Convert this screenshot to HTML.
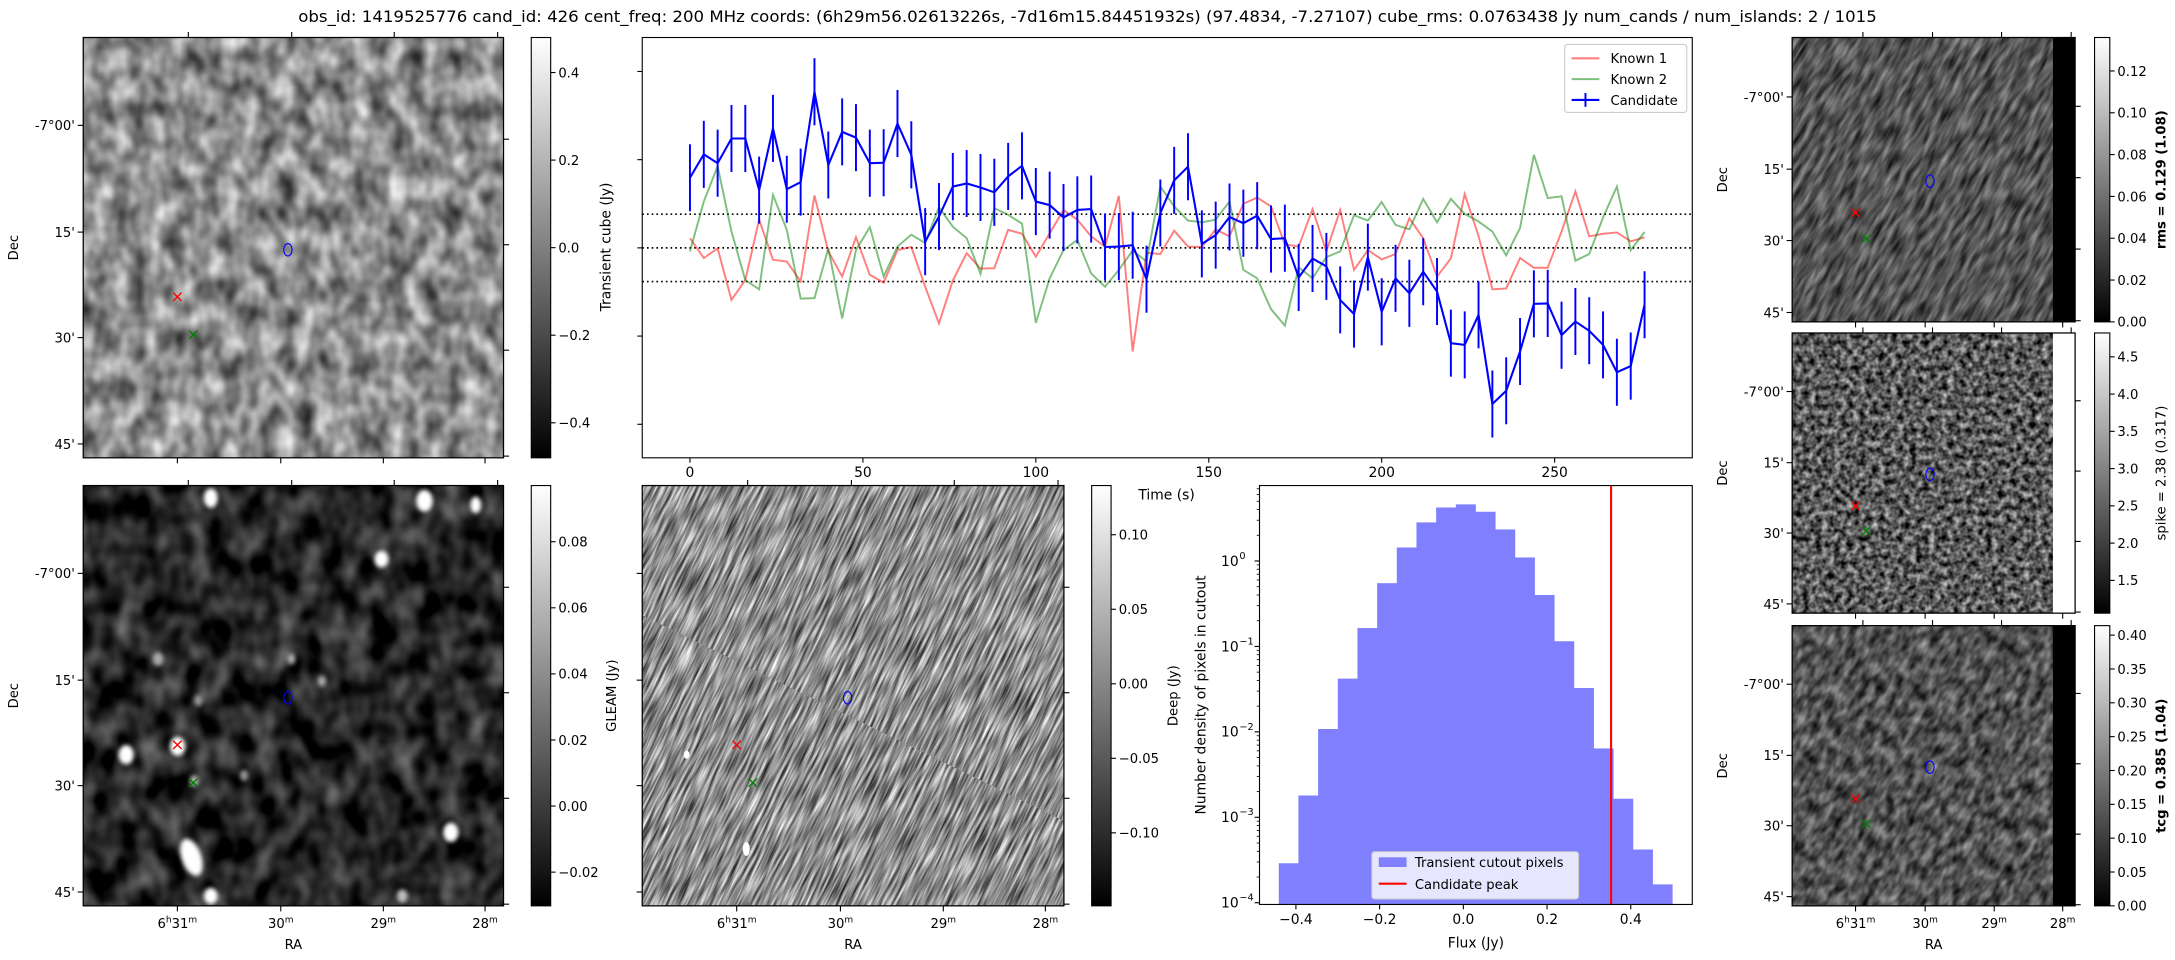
<!DOCTYPE html>
<html><head><meta charset="utf-8"><title>Transient candidate 426</title>
<style>
html,body{margin:0;padding:0;background:#fff;overflow:hidden;width:2175px;height:960px;}
svg{display:block;font-family:"DejaVu Sans","Liberation Sans",sans-serif;}
</style></head>
<body>
<svg id="fig" xmlns="http://www.w3.org/2000/svg" width="2175" height="960" viewBox="0 0 1568 692" overflow="hidden">
<defs>
  <filter id="fTL" x="0" y="0" width="1" height="1" color-interpolation-filters="sRGB"><feTurbulence type="fractalNoise" baseFrequency="0.075 0.055" numOctaves="2" seed="3"/><feColorMatrix type="matrix" values="1.0 0 0 0 0.05 1.0 0 0 0 0.05 1.0 0 0 0 0.05 0 0 0 0 1"/></filter>
  <filter id="fGL" x="0" y="0" width="1" height="1" color-interpolation-filters="sRGB"><feTurbulence type="fractalNoise" baseFrequency="0.06 0.045" numOctaves="2" seed="7"/><feColorMatrix type="matrix" values="0.8 0 0 0 -0.25 0.8 0 0 0 -0.25 0.8 0 0 0 -0.25 0 0 0 0 1"/></filter>
  <filter id="fDP" x="0" y="0" width="1" height="1" color-interpolation-filters="sRGB"><feTurbulence type="fractalNoise" baseFrequency="0.04 0.5" numOctaves="2" seed="11"/><feColorMatrix type="matrix" values="1.2 0 0 0 -0.05 1.2 0 0 0 -0.05 1.2 0 0 0 -0.05 0 0 0 0 1"/></filter>
  <filter id="fRMS" x="0" y="0" width="1" height="1" color-interpolation-filters="sRGB"><feTurbulence type="fractalNoise" baseFrequency="0.06 0.25" numOctaves="2" seed="5"/><feColorMatrix type="matrix" values="0.7 0 0 0 -0.02 0.7 0 0 0 -0.02 0.7 0 0 0 -0.02 0 0 0 0 1"/></filter>
  <filter id="fSP" x="0" y="0" width="1" height="1" color-interpolation-filters="sRGB"><feTurbulence type="fractalNoise" baseFrequency="0.22" numOctaves="2" seed="9"/><feColorMatrix type="matrix" values="1.2 0 0 0 -0.25 1.2 0 0 0 -0.25 1.2 0 0 0 -0.25 0 0 0 0 1"/></filter>
  <filter id="fTCG" x="0" y="0" width="1" height="1" color-interpolation-filters="sRGB"><feTurbulence type="fractalNoise" baseFrequency="0.1 0.18" numOctaves="2" seed="13"/><feColorMatrix type="matrix" values="0.8 0 0 0 -0.08 0.8 0 0 0 -0.08 0.8 0 0 0 -0.08 0 0 0 0 1"/></filter>
  <filter id="blur2"><feGaussianBlur stdDeviation="1.6"/></filter>
  <pattern id="pDP" patternUnits="userSpaceOnUse" x="0" y="0" width="600" height="600" patternTransform="rotate(-64 615 501)"><rect x="0" y="0" width="600" height="600" filter="url(#fDP)"/></pattern>
  <pattern id="pRMS" patternUnits="userSpaceOnUse" x="0" y="0" width="400" height="400" patternTransform="rotate(-60 1394 130)"><rect x="0" y="0" width="400" height="400" filter="url(#fRMS)"/></pattern>
  <pattern id="pTCG" patternUnits="userSpaceOnUse" x="0" y="0" width="400" height="400" patternTransform="rotate(-60 1394 552)"><rect x="0" y="0" width="400" height="400" filter="url(#fTCG)"/></pattern>
  <linearGradient id="gray" x1="0" y1="1" x2="0" y2="0"><stop offset="0" stop-color="#000"/><stop offset="1" stop-color="#fff"/></linearGradient>
  <clipPath id="cGL"><rect x="60" y="350" width="303" height="303"/></clipPath>
</defs>

<text x="784" y="16" font-size="11.5" text-anchor="middle" textLength="1138" lengthAdjust="spacingAndGlyphs">obs_id: 1419525776 cand_id: 426 cent_freq: 200 MHz coords: (6h29m56.02613226s, -7d16m15.84451932s) (97.4834, -7.27107) cube_rms: 0.0763438 Jy num_cands / num_islands: 2 / 1015</text>

<g><rect x="60" y="27" width="303" height="303" filter="url(#fTL)"/></g>
<g clip-path="url(#cGL)">
  <rect x="60" y="350" width="303" height="303" filter="url(#fGL)"/>
  <g fill="#fff" filter="url(#blur2)">
    <ellipse cx="152" cy="359" rx="5" ry="7"/><ellipse cx="306" cy="361" rx="6" ry="8"/><ellipse cx="343" cy="364" rx="4" ry="6"/>
    <ellipse cx="275" cy="403" rx="5" ry="6"/><ellipse cx="114" cy="475" rx="4" ry="5" fill="#aaa"/><ellipse cx="210" cy="475" rx="3" ry="4" fill="#aaa"/>
    <ellipse cx="232" cy="491" rx="3" ry="4" fill="#aaa"/><ellipse cx="143" cy="505" rx="3" ry="4" fill="#999"/>
    <ellipse cx="91" cy="544" rx="5.5" ry="7"/><ellipse cx="128" cy="538" rx="5.5" ry="7"/><ellipse cx="176" cy="559" rx="3" ry="4" fill="#999"/>
    <ellipse cx="140" cy="563" rx="3" ry="4" fill="#bbb"/><ellipse cx="325" cy="600" rx="5.5" ry="7"/>
    <ellipse cx="138" cy="618" rx="7" ry="14" transform="rotate(-20 138 618)"/><ellipse cx="152" cy="646" rx="5" ry="6"/><ellipse cx="290" cy="646" rx="4" ry="5" fill="#bbb"/>
  </g>
</g>
<g>
  <rect x="463" y="350" width="304" height="303" fill="url(#pDP)"/>
  <ellipse cx="495" cy="544" rx="2" ry="3" fill="#fff"/><ellipse cx="538" cy="612" rx="2.5" ry="5" fill="#fff"/>
</g>
<g>
  <rect x="1292" y="27" width="204" height="205" fill="url(#pRMS)"/>
  <rect x="1480" y="27" width="16" height="205" fill="#000"/>
</g>
<g>
  <rect x="1292" y="240" width="204" height="202" filter="url(#fSP)"/>
  <rect x="1480" y="240" width="16" height="202" fill="#fff"/>
</g>
<g>
  <rect x="1292" y="451" width="204" height="202" fill="url(#pTCG)"/>
  <rect x="1480" y="451" width="16" height="202" fill="#000"/>
</g>

<g id="panels"></g>
<g id="lightcurve"></g>
<g id="hist"></g>
</svg>

<script>
// ---------- light curve data ----------
const lcTimes = [0,4,8,12,16,20,24,28,32,36,40,44,48,52,56,60,64,68,72,76,80,84,88,92,96,100,104,108,112,116,120,124,128,132,136,140,144,148,152,156,160,164,168,172,176,180,184,188,192,196,200,204,208,212,216,220,224,228,232,236,240,244,248,252,256,260,264,268,272,276];
const candFlux = [0.159,0.212,0.192,0.248,0.248,0.131,0.271,0.133,0.149,0.354,0.188,0.263,0.250,0.192,0.193,0.282,0.211,0.014,0.071,0.139,0.146,0.137,0.126,0.162,0.186,0.105,0.097,0.069,0.086,0.088,0.002,0.003,0.006,-0.071,0.079,0.153,0.184,0.009,0.029,0.070,0.056,0.073,0.020,0.022,-0.067,-0.024,-0.042,-0.118,-0.150,-0.021,-0.145,-0.069,-0.103,-0.054,-0.099,-0.216,-0.220,-0.152,-0.354,-0.324,-0.235,-0.127,-0.126,-0.198,-0.167,-0.188,-0.220,-0.282,-0.268,-0.129];
const candErr = [0.076,0.076,0.076,0.076,0.076,0.076,0.076,0.076,0.076,0.076,0.076,0.076,0.076,0.076,0.076,0.076,0.076,0.076,0.076,0.076,0.076,0.076,0.076,0.076,0.076,0.076,0.076,0.076,0.076,0.076,0.076,0.076,0.076,0.076,0.076,0.076,0.076,0.076,0.076,0.076,0.076,0.076,0.076,0.076,0.076,0.076,0.076,0.076,0.076,0.076,0.076,0.076,0.076,0.076,0.076,0.076,0.076,0.076,0.076,0.076,0.076,0.076,0.076,0.076,0.076,0.076,0.076,0.076,0.076,0.076];
const known1Flux = [0.022,-0.023,-0.001,-0.118,-0.073,0.064,-0.027,-0.031,-0.076,0.119,-0.008,-0.065,0.024,-0.061,-0.079,-0.005,0.002,-0.088,-0.171,-0.074,-0.012,-0.047,-0.046,0.041,0.032,-0.020,0.033,0.086,0.064,0.026,0.003,0.118,-0.235,-0.011,-0.014,0.039,0.003,0.002,0.042,0.026,0.100,0.114,0.094,0.008,0.003,0.088,-0.008,0.086,-0.050,-0.005,-0.026,-0.014,0.067,0.022,-0.065,-0.024,0.122,0.027,-0.094,-0.092,-0.023,-0.045,-0.045,0.037,0.128,0.026,0.032,0.035,0.015,0.024];
const known2Flux = [-0.008,0.105,0.185,0.037,-0.073,-0.094,0.120,0.041,-0.115,-0.114,-0.001,-0.160,-0.005,0.047,-0.065,0.003,0.030,0.011,0.092,0.048,0.022,-0.059,0.090,0.075,0.055,-0.170,-0.069,-0.005,0.018,-0.058,-0.088,-0.050,-0.006,-0.031,0.139,0.094,0.062,0.058,0.064,0.105,-0.050,-0.069,-0.139,-0.176,-0.044,-0.069,-0.021,-0.008,0.074,0.062,0.104,0.052,0.042,0.111,0.058,0.111,0.077,0.060,0.037,-0.017,0.045,0.211,0.113,0.117,-0.029,-0.014,0.069,0.139,-0.005,0.036];
const cubeRms = [0.0763438];
const lcXTicks = [0,50,100,150,200,250];
const lcYTicks = [-0.4,-0.2,0,0.2,0.4];

// ---------- histogram data ----------
const binEdges = [-0.441,-0.394,-0.347,-0.300,-0.253,-0.206,-0.159,-0.112,-0.065,-0.018,0.029,0.076,0.123,0.170,0.217,0.264,0.311,0.358,0.405,0.452,0.499];
const binDensity = [2.9e-4,1.8e-3,1.08e-2,0.042,0.164,0.55,1.44,2.83,4.23,4.6,3.77,2.34,1.10,0.40,0.115,0.0326,6.4e-3,1.65e-3,4.2e-4,1.64e-4];
const candPeak = [0.353];
const histXTicks = [-0.4,-0.2,0.0,0.2,0.4];
const histXLabels = ["\u22120.4","\u22120.2","0.0","0.2","0.4"];
const histYDecades = [0,-1,-2,-3,-4];

const NS = 'http://www.w3.org/2000/svg';
function el(tag, parent, attrs){
  const e = document.createElementNS(NS, tag);
  for (const k in attrs) e.setAttribute(k, attrs[k]);
  parent.appendChild(e);
  return e;
}

// ---------- light curve ----------
(function(){
  const g = document.getElementById('lightcurve');
  const L=463,R=1220,T=27,B=330;
  const xd=[-13.8,289.8], yd=[-0.476,0.477];
  const xs = t => L + (t - xd[0])/(xd[1]-xd[0])*(R-L);
  const ys = v => B - (v - yd[0])/(yd[1]-yd[0])*(B-T);
  [-cubeRms[0], 0, cubeRms[0]].forEach(v => {
    const ln = el('line', g, {x1:L,x2:R,y1:ys(v),y2:ys(v),stroke:'#000','stroke-width':1.2,'stroke-dasharray':'1.2 2.2'});
    
    
  });
  const path = arr => arr.map((v,i)=>(i?'L':'M')+xs(lcTimes[i]).toFixed(2)+' '+ys(v).toFixed(2)).join(' ');
  const k1 = el('path', g, {d:path(known1Flux),fill:'none',stroke:'red','stroke-opacity':0.5,'stroke-width':1.4});
  
  
  const k2 = el('path', g, {d:path(known2Flux),fill:'none',stroke:'green','stroke-opacity':0.5,'stroke-width':1.4});
  
  
  candFlux.forEach((v,i) => {
    const eb = el('line', g, {x1:xs(lcTimes[i]),x2:xs(lcTimes[i]),y1:ys(v-candErr[i]),y2:ys(v+candErr[i]),stroke:'#0000ff','stroke-width':1.4});
    
    
  });
  const cl = el('path', g, {d:path(candFlux),fill:'none',stroke:'#0000ff','stroke-width':1.5});
  
  
  const fr = el('rect', g, {x:L,y:T,width:R-L,height:B-T,fill:'none',stroke:'#000','stroke-width':0.8});
  
  
  lcXTicks.forEach(t => {
    el('line', g, {x1:xs(t),x2:xs(t),y1:B,y2:B+3.5,stroke:'#000','stroke-width':0.8});
    const tx = el('text', g, {x:xs(t),y:B+14,'font-size':10,'text-anchor':'middle'});
    tx.textContent = String(t);
    
    
  });
  lcYTicks.forEach(v => { el('line', g, {x1:L-3.5,x2:L,y1:ys(v),y2:ys(v),stroke:'#000','stroke-width':0.8}); });
  const xt = el('text', g, {x:841,y:360,'font-size':10,'text-anchor':'middle'});
  xt.textContent = 'Time (s)';
  
  
  const yt = el('text', g, {x:0,y:0,'font-size':10,'text-anchor':'middle',transform:'translate(440,178) rotate(-90)'});
  yt.textContent = 'Transient cube (Jy)';
  
  
  const lg = el('g', g, {});
  
  
  el('rect', lg, {x:1128,y:32,width:88,height:49,rx:2,fill:'#fff','fill-opacity':0.8,stroke:'#ccc','stroke-width':0.8});
  const items = [['Known 1','red',0.5,false],['Known 2','green',0.5,false],['Candidate','#0000ff',1,true]];
  items.forEach((it,i) => {
    const y = 42 + i*15;
    el('line', lg, {x1:1133,x2:1153,y1:y,y2:y,stroke:it[1],'stroke-opacity':it[2],'stroke-width':1.5});
    if (it[3]) el('line', lg, {x1:1143,x2:1143,y1:y-5,y2:y+5,stroke:it[1],'stroke-width':1.4});
    const t = el('text', lg, {x:1161,y:y+3.5,'font-size':9.5});
    t.textContent = it[0];
    
    
  });
})();

// ---------- histogram ----------
(function(){
  const g = document.getElementById('hist');
  const L=908,R=1220,T=350,B=652;
  const xd=[-0.487,0.547], yd=[-4.02,0.883];
  const xs = v => L + (v - xd[0])/(xd[1]-xd[0])*(R-L);
  const ys = v => B - (Math.log10(v) - yd[0])/(yd[1]-yd[0])*(B-T);
  binDensity.forEach((d,i) => {
    const x0 = xs(binEdges[i]), x1 = xs(binEdges[i+1]);
    const b = el('rect', g, {x:x0,y:ys(d),width:x1-x0+0.3,height:B-ys(d),fill:'#8080ff'});
    
    
  });
  const pk = el('line', g, {x1:xs(candPeak[0]),x2:xs(candPeak[0]),y1:T,y2:B,stroke:'red','stroke-width':1.5});
  
  
  const fr = el('rect', g, {x:L,y:T,width:R-L,height:B-T,fill:'none',stroke:'#000','stroke-width':0.8});
  
  
  histXTicks.forEach((v,i) => {
    el('line', g, {x1:xs(v),x2:xs(v),y1:B,y2:B+3.5,stroke:'#000','stroke-width':0.8});
    const t = el('text', g, {x:xs(v),y:B+14,'font-size':10,'text-anchor':'middle'});
    t.textContent = histXLabels[i];
    
    
  });
  histYDecades.forEach(d => {
    const y = ys(Math.pow(10,d));
    el('line', g, {x1:L-3.5,x2:L,y1:y,y2:y,stroke:'#000','stroke-width':0.8});
    const t = el('text', g, {x:L-15,y:y+3.5,'font-size':10,'text-anchor':'end'});
    t.textContent = '10';
    
    
    const s = el('text', g, {x:L-14.5,y:y-1.5,'font-size':7,'text-anchor':'start'});
    s.textContent = d===0 ? '0' : '\u2212'+(-d);
    for (let m=2;m<10;m++){
      const v = m*Math.pow(10,d);
      if (Math.log10(v) < yd[1]) { const ym = ys(v); el('line', g, {x1:L-2,x2:L,y1:ym,y2:ym,stroke:'#000','stroke-width':0.6}); }
    }
  });
  const xt = el('text', g, {x:1064,y:683,'font-size':10,'text-anchor':'middle'});
  xt.textContent = 'Flux (Jy)';
  
  
  const yt = el('text', g, {x:0,y:0,'font-size':10,'text-anchor':'middle',transform:'translate(869,501) rotate(-90)'});
  yt.textContent = 'Number density of pixels in cutout';
  
  
  const lg = el('g', g, {});
  
  
  el('rect', lg, {x:989,y:614,width:149,height:34,rx:2,fill:'#fff','fill-opacity':0.8,stroke:'#ccc','stroke-width':0.8});
  el('rect', lg, {x:994,y:618,width:20,height:7,fill:'#8080ff'});
  el('line', lg, {x1:994,x2:1014,y1:637,y2:637,stroke:'red','stroke-width':1.5});
  const t1 = el('text', lg, {x:1020,y:625,'font-size':9.5});
  t1.textContent = 'Transient cutout pixels';
  
  
  const t2 = el('text', lg, {x:1020,y:641,'font-size':9.5});
  t2.textContent = 'Candidate peak';
  
  
})();

// ---------- image panels ----------
const decFracL = [0.209,0.463,0.714,0.967];
const decFracR = [0.242,0.493,0.744,0.996];
const raFracB = [0.224,0.470,0.714,0.956];
const raFracT = [0.25,0.496,0.740,0.986];
const decLabels = ["-7\u00b000'","15'","30'","45'"];
const raLabels = [["6","h","31","m"],["","","30","m"],["","","29","m"],["","","28","m"]];

function panel(name, x0,y0,w,h, showDec, showRA, cb){
  const g = el('g', document.getElementById('panels'), {});
  
  
  const rx = x0+0.224*w, ry = y0+0.617*h, gx = x0+0.262*w, gy = y0+0.707*h;
  el('path', g, {d:`M${rx-3} ${ry-3}L${rx+3} ${ry+3}M${rx-3} ${ry+3}L${rx+3} ${ry-3}`,stroke:'red','stroke-width':1});
  el('path', g, {d:`M${gx-3} ${gy-3}L${gx+3} ${gy+3}M${gx-3} ${gy+3}L${gx+3} ${gy-3}`,stroke:'green','stroke-width':1});
  el('ellipse', g, {cx:x0+0.487*w,cy:y0+0.505*h,rx:3,ry:4.5,fill:'none',stroke:'#0000ff','stroke-width':0.8});
  el('rect', g, {x:x0,y:y0,width:w,height:h,fill:'none',stroke:'#000','stroke-width':0.9});
  decFracL.forEach((f,i) => {
    const y = y0+f*h;
    el('line', g, {x1:x0-4,x2:x0,y1:y,y2:y,stroke:'#000','stroke-width':0.8});
    if (showDec){
      const t = el('text', g, {x:x0-6,y:y+3.5,'font-size':9.5,'text-anchor':'end'});
      t.textContent = decLabels[i];
      
      
    }
  });
  decFracR.forEach(f => { const y=y0+f*h; el('line', g, {x1:x0+w,x2:x0+w+4,y1:y,y2:y,stroke:'#000','stroke-width':0.8}); });
  raFracT.forEach(f => { const x=x0+f*w; el('line', g, {x1:x,x2:x,y1:y0-4,y2:y0,stroke:'#000','stroke-width':0.8}); });
  raFracB.forEach((f,i) => {
    const x = x0+f*w;
    el('line', g, {x1:x,x2:x,y1:y0+h,y2:y0+h+4,stroke:'#000','stroke-width':0.8});
    if (showRA){
      const t = el('text', g, {x:x,y:y0+h+16,'font-size':9.5,'text-anchor':'middle'});
      const p = raLabels[i];
      if (p[0]) { t.appendChild(document.createTextNode(p[0])); const s=el('tspan', t, {'font-size':6.5,dy:-4}); s.textContent=p[1]; const r=el('tspan', t, {dy:4}); r.textContent=p[2]; }
      else { t.appendChild(document.createTextNode(p[2])); }
      const m = el('tspan', t, {'font-size':6.5,dy:-4}); m.textContent = p[3];
      
      
    }
  });
  if (showDec){
    const t = el('text', g, {x:0,y:0,'font-size':9.5,'text-anchor':'middle',transform:`translate(${x0-47},${y0+h/2}) rotate(-90)`});
    t.textContent = 'Dec';
    
    
  }
  if (showRA){
    const t = el('text', g, {x:x0+w/2,y:y0+h+31,'font-size':9.5,'text-anchor':'middle'});
    t.textContent = 'RA';
    
    
  }
  const c = el('g', g, {});
  
  
  el('rect', c, {x:cb.x,y:y0,width:cb.w,height:h,fill:'url(#gray)',stroke:'#000','stroke-width':0.8});
  cb.ticks.forEach((v,i) => {
    const y = y0+h - (v-cb.min)/(cb.max-cb.min)*h;
    el('line', c, {x1:cb.x+cb.w,x2:cb.x+cb.w+3.5,y1:y,y2:y,stroke:'#000','stroke-width':0.8});
    const t = el('text', c, {x:cb.x+cb.w+5.5,y:y+3.5,'font-size':9.5});
    t.textContent = cb.labels[i];
    
    
  });
  if (cb.title){
    const t = el('text', c, {x:0,y:0,'font-size':9.5,'text-anchor':'middle','font-weight':cb.bold?'bold':'normal',transform:`translate(${cb.tx},${y0+h/2}) rotate(-90)`});
    t.textContent = cb.title;
    
    
  }
}
const M = '\u2212';
panel('transient-panel',60,27,303,303,true,false,{name:'transient-colorbar',x:383,w:14,min:-0.48,max:0.48,ticks:[-0.4,-0.2,0,0.2,0.4],labels:[M+'0.4',M+'0.2','0.0','0.2','0.4'],title:''});
panel('gleam-panel',60,350,303,303,true,true,{name:'gleam-colorbar',x:383,w:14,min:-0.0302,max:0.097,ticks:[-0.02,0,0.02,0.04,0.06,0.08],labels:[M+'0.02','0.00','0.02','0.04','0.06','0.08'],title:'GLEAM (Jy)',tx:444,bold:false});
panel('deep-panel',463,350,304,303,false,true,{name:'deep-colorbar',x:787,w:14,min:-0.149,max:0.133,ticks:[-0.1,-0.05,0,0.05,0.1],labels:[M+'0.10',M+'0.05','0.00','0.05','0.10'],title:'Deep (Jy)',tx:849,bold:false});
panel('rms-panel',1292,27,204,205,true,false,{name:'rms-colorbar',x:1510,w:11,min:0,max:0.136,ticks:[0,0.02,0.04,0.06,0.08,0.10,0.12],labels:['0.00','0.02','0.04','0.06','0.08','0.10','0.12'],title:'rms = 0.129 (1.08)',tx:1561,bold:true});
panel('spike-panel',1292,240,204,202,true,false,{name:'spike-colorbar',x:1510,w:11,min:1.06,max:4.82,ticks:[1.5,2,2.5,3,3.5,4,4.5],labels:['1.5','2.0','2.5','3.0','3.5','4.0','4.5'],title:'spike = 2.38 (0.317)',tx:1561,bold:false});
panel('tcg-panel',1292,451,204,202,true,true,{name:'tcg-colorbar',x:1510,w:11,min:0,max:0.414,ticks:[0,0.05,0.1,0.15,0.2,0.25,0.3,0.35,0.4],labels:['0.00','0.05','0.10','0.15','0.20','0.25','0.30','0.35','0.40'],title:'tcg = 0.385 (1.04)',tx:1561,bold:true});
</script>
</body></html>
